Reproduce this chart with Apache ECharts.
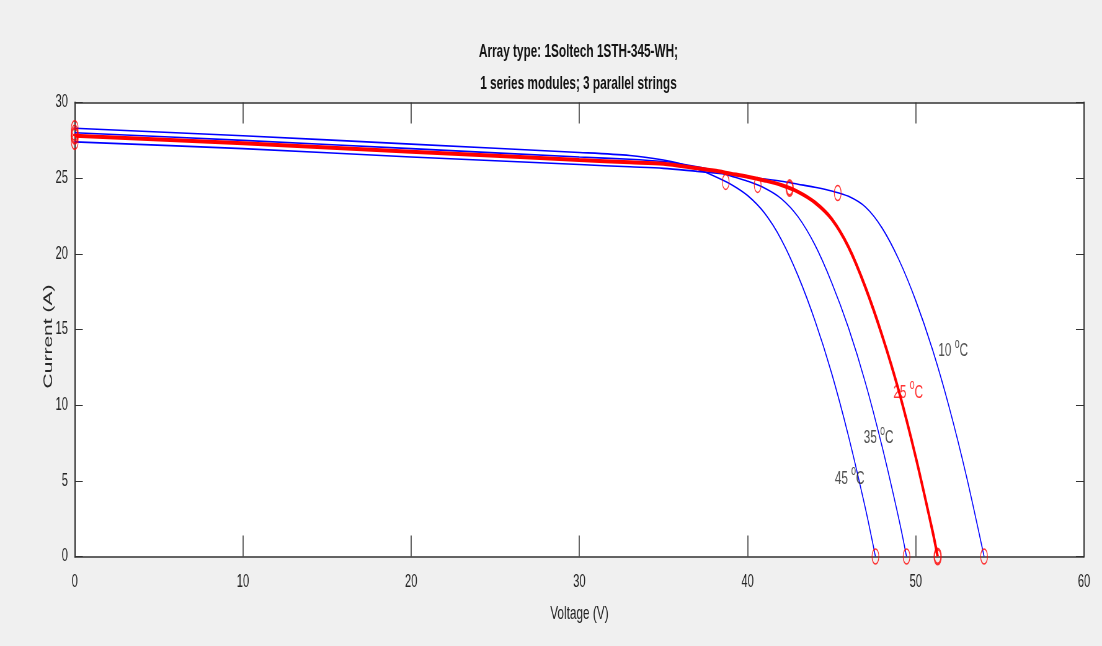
<!DOCTYPE html>
<html>
<head>
<meta charset="utf-8">
<script src="https://cdn.jsdelivr.net/npm/echarts@6/dist/echarts.min.js"></script>
<style>
  html, body { margin: 0; padding: 0; overflow: hidden; background: #f0f0f0; }
  #wrap { width: 1102px; height: 646px; overflow: hidden; background: #f0f0f0; position: relative; }
  #main { height: 646px; transform-origin: 0 0; position: absolute; left: 0; top: 0; }
</style>
</head>
<body>
<div id="wrap"><div id="main"></div></div>
<script>
// ---------------- data ----------------
const titleLines = ['Array type: 1Soltech 1STH-345-WH;', '1 series modules; 3 parallel strings'];
const xAxisName = 'Voltage (V)';
const yAxisName = 'Current (A)';
const xTicks = [0, 10, 20, 30, 40, 50, 60];
const yTicks = [0, 5, 10, 15, 20, 25, 30];

const voltage45 = [0, 10, 20, 30, 33, 35, 36, 37, 38, 39, 40, 41, 42, 43, 44, 45, 46, 47, 47.6];
const current45 = [28.3, 27.8, 27.25, 26.7, 26.5, 26.2, 25.95, 25.6, 25.15, 24.6, 23.85, 22.7, 20.95, 18.55, 15.6, 12.1, 7.95, 3.2, 0];

const voltage35 = [0, 10, 20, 30, 33, 35, 36, 37, 38, 39, 40, 41, 42, 43, 44, 45, 46, 47, 48, 49, 49.45];
const current35 = [28.0, 27.5, 26.95, 26.4, 26.25, 26.1, 25.95, 25.75, 25.5, 25.15, 24.8, 24.35, 23.65, 22.45, 20.6, 18.1, 15.1, 11.5, 7.25, 2.45, 0];

const voltage25 = [0, 10, 20, 30, 33, 35, 37, 38, 39, 40, 41, 42, 43, 44, 45, 46, 47, 48, 49, 50, 51, 51.3];
const current25 = [27.8, 27.3, 26.75, 26.2, 26.05, 25.95, 25.65, 25.5, 25.3, 25.1, 24.85, 24.55, 24.1, 23.4, 22.3, 20.45, 17.8, 14.6, 10.9, 6.55, 1.65, 0];

const voltage10 = [0, 10, 20, 30, 33, 35, 37, 38, 39, 40, 41, 42, 43, 44, 45, 46, 47, 48, 49, 50, 51, 52, 53, 54.06];
const current10 = [27.4, 26.95, 26.4, 25.9, 25.75, 25.65, 25.45, 25.35, 25.22, 25.08, 24.95, 24.8, 24.6, 24.4, 24.15, 23.8, 23.1, 21.7, 19.6, 16.9, 13.65, 9.8, 5.35, 0];

// red circle markers: short circuit, maximum power, open circuit
const markers45 = [[0, 28.3], [38.7, 24.75], [47.6, 0]];
const markers35 = [[0, 28.0], [40.6, 24.55], [49.45, 0]];
const markers25 = [[0, 27.8], [42.5, 24.35], [51.3, 0]];
const markers10 = [[0, 27.4], [45.36, 24.02], [54.06, 0]];

// curve labels (temperature in degC) and where they sit
const labelTemps = ['10', '25', '35', '45'];
const labelPos = [[52.22, 13.6], [49.55, 10.85], [47.79, 7.85], [46.07, 5.2]];

// ---------------- rendering ----------------
const S = 0.62;                     // horizontal squeeze of the reference figure
const W = Math.round(1102 / S);
const main = document.getElementById('main');
main.style.width = W + 'px';
main.style.transform = 'scaleX(' + (1102 / W) + ')';
const sx = 1102 / W;

const FONT = '"Liberation Sans", Arial, Helvetica, sans-serif';
const AX = '#333333';
const TXT = '#262626';

function pairs(vs, is) { return vs.map((v, k) => [v, is[k]]); }

const chart = echarts.init(main, null, { renderer: 'canvas' });

function lineSeries(name, data, color, width, z) {
  return {
    name, type: 'line', data, xAxisIndex: 0, yAxisIndex: 0,
    showSymbol: false, smooth: 0.3,
    lineStyle: { color, width }, z, silent: true
  };
}
function markerSeries(name, data, bw, z) {
  return {
    name, type: 'scatter', data, xAxisIndex: 0, yAxisIndex: 0,
    symbol: 'circle', symbolSize: [11, 15],
    itemStyle: { color: 'rgba(0,0,0,0)', borderColor: '#ff0000', borderWidth: bw },
    z, silent: true
  };
}

const labelColors = [TXT, '#ff0000', TXT, TXT];
const labelData = labelPos.map((p, k) => ({
  value: p,
  label: {
    formatter: '{n|' + labelTemps[k] + ' }{s|o}{n|C}',
    rich: {
      n: { fontSize: 19, lineHeight: 20, fontFamily: FONT, color: labelColors[k], verticalAlign: 'bottom' },
      s: { fontSize: 14, lineHeight: 14, fontFamily: FONT, color: labelColors[k], padding: [0, 0, 10, 0], verticalAlign: 'bottom' }
    }
  }
}));

const xMin = xTicks[0], xMax = xTicks[xTicks.length - 1], xInt = xTicks[1] - xTicks[0];
const yMin = yTicks[0], yMax = yTicks[yTicks.length - 1], yInt = yTicks[1] - yTicks[0];

const option = {
  animation: false,
  backgroundColor: '#f0f0f0',
  title: {
    text: titleLines.join('\n'),
    left: 578.5 / sx, top: 36, textAlign: 'center', padding: 0,
    textStyle: { fontFamily: FONT, fontWeight: 'bold', fontSize: 19, lineHeight: 32, color: '#141414' }
  },
  grid: {
    left: 74.7 / sx, right: 18 / sx, top: 102.5, bottom: 89.5,
    show: true, backgroundColor: '#ffffff', borderWidth: 0
  },
  xAxis: [
    {
      type: 'value', position: 'bottom', min: xMin, max: xMax, interval: xInt,
      name: xAxisName, nameLocation: 'middle', nameGap: 48, nameMoveOverlap: false,
      nameTextStyle: { fontFamily: FONT, fontSize: 19, color: TXT },
      axisLine: { show: true, onZero: false, lineStyle: { color: AX, width: 1.5 } },
      axisTick: { show: true, inside: true, length: 21, lineStyle: { color: AX, width: 1.5 } },
      axisLabel: { margin: 17, fontFamily: FONT, fontSize: 18, color: TXT },
      splitLine: { show: false }
    },
    {
      type: 'value', position: 'top', min: xMin, max: xMax, interval: xInt,
      axisLine: { show: true, onZero: false, lineStyle: { color: AX, width: 1.5 } },
      axisTick: { show: true, inside: true, length: 21, lineStyle: { color: AX, width: 1.5 } },
      axisLabel: { show: false }, splitLine: { show: false }
    }
  ],
  yAxis: [
    {
      type: 'value', position: 'left', min: yMin, max: yMax, interval: yInt,
      name: yAxisName, nameLocation: 'middle', nameGap: 32, nameMoveOverlap: false,
      nameTextStyle: { fontFamily: FONT, fontSize: 21, color: TXT, padding: [0, 14, 0, 0] },
      axisLine: { show: true, onZero: false, lineStyle: { color: AX, width: 2 } },
      axisTick: { show: true, inside: true, length: 13, lineStyle: { color: AX, width: 1 } },
      axisLabel: { margin: 11, fontFamily: FONT, fontSize: 18, color: TXT },
      splitLine: { show: false }
    },
    {
      type: 'value', position: 'right', min: yMin, max: yMax, interval: yInt,
      axisLine: { show: true, onZero: false, lineStyle: { color: AX, width: 2 } },
      axisTick: { show: true, inside: true, length: 13, lineStyle: { color: AX, width: 1 } },
      axisLabel: { show: false }, splitLine: { show: false }
    }
  ],
  series: [
    lineSeries('10 °C', pairs(voltage10, current10), '#0000ff', 1.6, 2),
    lineSeries('35 °C', pairs(voltage35, current35), '#0000ff', 1.6, 2),
    lineSeries('45 °C', pairs(voltage45, current45), '#0000ff', 1.6, 2),
    lineSeries('25 °C', pairs(voltage25, current25), '#ff0000', 4, 3),
    markerSeries('markers 10', markers10, 1.4, 4),
    markerSeries('markers 35', markers35, 1.4, 4),
    markerSeries('markers 45', markers45, 1.4, 4),
    markerSeries('markers 25', markers25, 2.6, 5),
    {
      name: 'labels', type: 'scatter', data: labelData, xAxisIndex: 0, yAxisIndex: 0,
      symbolSize: 1, itemStyle: { color: 'rgba(0,0,0,0)' },
      label: { show: true, position: 'inside' }, z: 6, silent: true
    }
  ]
};
chart.setOption(option);
</script>
</body>
</html>
